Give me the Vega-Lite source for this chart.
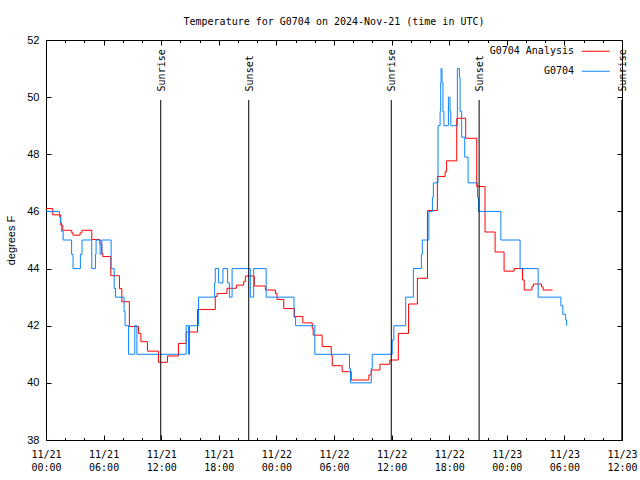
{
  "$schema": "https://vega.github.io/schema/vega-lite/v6.json",
  "width": 576,
  "height": 400,
  "autosize": {"type": "none"},
  "padding": {"left": 46, "top": 40, "right": 18, "bottom": 40},
  "background": "white",
  "title": {"text": "Temperature for G0704 on 2024-Nov-21 (time in UTC)", "font": "DejaVu Sans Mono", "fontSize": 10, "fontWeight": "normal", "color": "black", "anchor": "middle", "frame": "group", "baseline": "bottom", "offset": -2.5},
  "config": {
    "view": {"stroke": "black", "strokeWidth": 1},
    "axis": {"grid": false, "domain": false, "ticks": true, "tickColor": "black", "tickWidth": 1, "labelColor": "black", "labelFont": "DejaVu Sans Mono", "labelFontSize": 10, "titleFont": "Liberation Sans", "titleFontWeight": "normal", "titleFontSize": 11, "titleColor": "black"}
  },
  "datasets": {
    "temps": [
      {"time": "2024-11-21T00:00:00Z", "temp": 46.1, "series": "G0704 Analysis"},
      {"time": "2024-11-21T00:42:00Z", "temp": 45.88, "series": "G0704 Analysis"},
      {"time": "2024-11-21T01:32:00Z", "temp": 45.52, "series": "G0704 Analysis"},
      {"time": "2024-11-21T01:45:00Z", "temp": 45.34, "series": "G0704 Analysis"},
      {"time": "2024-11-21T02:41:00Z", "temp": 45.25, "series": "G0704 Analysis"},
      {"time": "2024-11-21T02:49:00Z", "temp": 45.17, "series": "G0704 Analysis"},
      {"time": "2024-11-21T03:33:00Z", "temp": 45.25, "series": "G0704 Analysis"},
      {"time": "2024-11-21T03:44:00Z", "temp": 45.34, "series": "G0704 Analysis"},
      {"time": "2024-11-21T04:46:00Z", "temp": 45.02, "series": "G0704 Analysis"},
      {"time": "2024-11-21T05:38:00Z", "temp": 44.85, "series": "G0704 Analysis"},
      {"time": "2024-11-21T05:49:00Z", "temp": 44.55, "series": "G0704 Analysis"},
      {"time": "2024-11-21T05:55:00Z", "temp": 44.42, "series": "G0704 Analysis"},
      {"time": "2024-11-21T06:45:00Z", "temp": 43.75, "series": "G0704 Analysis"},
      {"time": "2024-11-21T07:39:00Z", "temp": 43.3, "series": "G0704 Analysis"},
      {"time": "2024-11-21T07:54:00Z", "temp": 42.84, "series": "G0704 Analysis"},
      {"time": "2024-11-21T08:41:00Z", "temp": 41.97, "series": "G0704 Analysis"},
      {"time": "2024-11-21T09:38:00Z", "temp": 41.73, "series": "G0704 Analysis"},
      {"time": "2024-11-21T09:53:00Z", "temp": 41.44, "series": "G0704 Analysis"},
      {"time": "2024-11-21T10:34:00Z", "temp": 41.11, "series": "G0704 Analysis"},
      {"time": "2024-11-21T11:43:00Z", "temp": 40.72, "series": "G0704 Analysis"},
      {"time": "2024-11-21T12:39:00Z", "temp": 40.94, "series": "G0704 Analysis"},
      {"time": "2024-11-21T13:48:00Z", "temp": 41.38, "series": "G0704 Analysis"},
      {"time": "2024-11-21T14:36:00Z", "temp": 41.78, "series": "G0704 Analysis"},
      {"time": "2024-11-21T15:47:00Z", "temp": 42.57, "series": "G0704 Analysis"},
      {"time": "2024-11-21T17:38:00Z", "temp": 43.02, "series": "G0704 Analysis"},
      {"time": "2024-11-21T17:49:00Z", "temp": 43.13, "series": "G0704 Analysis"},
      {"time": "2024-11-21T18:51:00Z", "temp": 43.31, "series": "G0704 Analysis"},
      {"time": "2024-11-21T19:50:00Z", "temp": 43.42, "series": "G0704 Analysis"},
      {"time": "2024-11-21T20:35:00Z", "temp": 43.54, "series": "G0704 Analysis"},
      {"time": "2024-11-21T20:46:00Z", "temp": 43.74, "series": "G0704 Analysis"},
      {"time": "2024-11-21T21:42:00Z", "temp": 43.39, "series": "G0704 Analysis"},
      {"time": "2024-11-21T22:51:00Z", "temp": 43.25, "series": "G0704 Analysis"},
      {"time": "2024-11-21T23:54:00Z", "temp": 43.13, "series": "G0704 Analysis"},
      {"time": "2024-11-22T00:04:00Z", "temp": 42.92, "series": "G0704 Analysis"},
      {"time": "2024-11-22T00:46:00Z", "temp": 42.6, "series": "G0704 Analysis"},
      {"time": "2024-11-22T01:53:00Z", "temp": 42.32, "series": "G0704 Analysis"},
      {"time": "2024-11-22T02:45:00Z", "temp": 42.1, "series": "G0704 Analysis"},
      {"time": "2024-11-22T03:44:00Z", "temp": 41.9, "series": "G0704 Analysis"},
      {"time": "2024-11-22T03:50:00Z", "temp": 41.67, "series": "G0704 Analysis"},
      {"time": "2024-11-22T04:46:00Z", "temp": 41.27, "series": "G0704 Analysis"},
      {"time": "2024-11-22T05:43:00Z", "temp": 40.97, "series": "G0704 Analysis"},
      {"time": "2024-11-22T05:49:00Z", "temp": 40.6, "series": "G0704 Analysis"},
      {"time": "2024-11-22T06:51:00Z", "temp": 40.39, "series": "G0704 Analysis"},
      {"time": "2024-11-22T07:48:00Z", "temp": 40.1, "series": "G0704 Analysis"},
      {"time": "2024-11-22T09:38:00Z", "temp": 40.28, "series": "G0704 Analysis"},
      {"time": "2024-11-22T09:53:00Z", "temp": 40.45, "series": "G0704 Analysis"},
      {"time": "2024-11-22T10:47:00Z", "temp": 40.65, "series": "G0704 Analysis"},
      {"time": "2024-11-22T11:49:00Z", "temp": 40.8, "series": "G0704 Analysis"},
      {"time": "2024-11-22T12:42:00Z", "temp": 41.73, "series": "G0704 Analysis"},
      {"time": "2024-11-22T13:46:00Z", "temp": 42.76, "series": "G0704 Analysis"},
      {"time": "2024-11-22T14:41:00Z", "temp": 43.66, "series": "G0704 Analysis"},
      {"time": "2024-11-22T15:44:00Z", "temp": 46.03, "series": "G0704 Analysis"},
      {"time": "2024-11-22T16:46:00Z", "temp": 47.22, "series": "G0704 Analysis"},
      {"time": "2024-11-22T17:34:00Z", "temp": 47.39, "series": "G0704 Analysis"},
      {"time": "2024-11-22T17:44:00Z", "temp": 47.77, "series": "G0704 Analysis"},
      {"time": "2024-11-22T18:47:00Z", "temp": 49.26, "series": "G0704 Analysis"},
      {"time": "2024-11-22T19:43:00Z", "temp": 48.56, "series": "G0704 Analysis"},
      {"time": "2024-11-22T20:52:00Z", "temp": 46.87, "series": "G0704 Analysis"},
      {"time": "2024-11-22T21:44:00Z", "temp": 45.28, "series": "G0704 Analysis"},
      {"time": "2024-11-22T22:47:00Z", "temp": 44.58, "series": "G0704 Analysis"},
      {"time": "2024-11-22T23:43:00Z", "temp": 43.91, "series": "G0704 Analysis"},
      {"time": "2024-11-23T00:46:00Z", "temp": 44.0, "series": "G0704 Analysis"},
      {"time": "2024-11-23T01:38:00Z", "temp": 43.6, "series": "G0704 Analysis"},
      {"time": "2024-11-23T01:49:00Z", "temp": 43.25, "series": "G0704 Analysis"},
      {"time": "2024-11-23T02:37:00Z", "temp": 43.38, "series": "G0704 Analysis"},
      {"time": "2024-11-23T02:47:00Z", "temp": 43.46, "series": "G0704 Analysis"},
      {"time": "2024-11-23T03:37:00Z", "temp": 43.36, "series": "G0704 Analysis"},
      {"time": "2024-11-23T03:47:00Z", "temp": 43.25, "series": "G0704 Analysis"},
      {"time": "2024-11-23T04:46:00Z", "temp": 43.25, "series": "G0704 Analysis"},
      {"time": "2024-11-21T00:00:00Z", "temp": 46.0, "series": "G0704"},
      {"time": "2024-11-21T01:25:00Z", "temp": 45.8, "series": "G0704"},
      {"time": "2024-11-21T01:31:00Z", "temp": 45.6, "series": "G0704"},
      {"time": "2024-11-21T01:38:00Z", "temp": 45.3, "series": "G0704"},
      {"time": "2024-11-21T01:47:00Z", "temp": 45.0, "series": "G0704"},
      {"time": "2024-11-21T02:40:00Z", "temp": 44.5, "series": "G0704"},
      {"time": "2024-11-21T02:49:00Z", "temp": 44.0, "series": "G0704"},
      {"time": "2024-11-21T03:35:00Z", "temp": 44.5, "series": "G0704"},
      {"time": "2024-11-21T03:45:00Z", "temp": 45.0, "series": "G0704"},
      {"time": "2024-11-21T04:46:00Z", "temp": 44.0, "series": "G0704"},
      {"time": "2024-11-21T05:09:00Z", "temp": 44.5, "series": "G0704"},
      {"time": "2024-11-21T05:13:00Z", "temp": 45.0, "series": "G0704"},
      {"time": "2024-11-21T05:38:00Z", "temp": 44.5, "series": "G0704"},
      {"time": "2024-11-21T05:49:00Z", "temp": 45.0, "series": "G0704"},
      {"time": "2024-11-21T06:47:00Z", "temp": 44.0, "series": "G0704"},
      {"time": "2024-11-21T07:06:00Z", "temp": 43.3, "series": "G0704"},
      {"time": "2024-11-21T07:14:00Z", "temp": 43.0, "series": "G0704"},
      {"time": "2024-11-21T08:08:00Z", "temp": 42.5, "series": "G0704"},
      {"time": "2024-11-21T08:14:00Z", "temp": 42.0, "series": "G0704"},
      {"time": "2024-11-21T08:36:00Z", "temp": 41.0, "series": "G0704"},
      {"time": "2024-11-21T09:15:00Z", "temp": 42.0, "series": "G0704"},
      {"time": "2024-11-21T09:28:00Z", "temp": 41.0, "series": "G0704"},
      {"time": "2024-11-21T14:36:00Z", "temp": 42.0, "series": "G0704"},
      {"time": "2024-11-21T14:51:00Z", "temp": 41.0, "series": "G0704"},
      {"time": "2024-11-21T14:57:00Z", "temp": 42.0, "series": "G0704"},
      {"time": "2024-11-21T15:53:00Z", "temp": 43.0, "series": "G0704"},
      {"time": "2024-11-21T17:34:00Z", "temp": 43.5, "series": "G0704"},
      {"time": "2024-11-21T17:38:00Z", "temp": 44.0, "series": "G0704"},
      {"time": "2024-11-21T17:59:00Z", "temp": 43.5, "series": "G0704"},
      {"time": "2024-11-21T18:26:00Z", "temp": 44.0, "series": "G0704"},
      {"time": "2024-11-21T18:55:00Z", "temp": 43.5, "series": "G0704"},
      {"time": "2024-11-21T19:06:00Z", "temp": 43.0, "series": "G0704"},
      {"time": "2024-11-21T19:23:00Z", "temp": 44.0, "series": "G0704"},
      {"time": "2024-11-21T21:17:00Z", "temp": 43.0, "series": "G0704"},
      {"time": "2024-11-21T21:38:00Z", "temp": 44.0, "series": "G0704"},
      {"time": "2024-11-21T22:56:00Z", "temp": 43.0, "series": "G0704"},
      {"time": "2024-11-22T01:50:00Z", "temp": 42.3, "series": "G0704"},
      {"time": "2024-11-22T02:00:00Z", "temp": 42.0, "series": "G0704"},
      {"time": "2024-11-22T04:00:00Z", "temp": 41.0, "series": "G0704"},
      {"time": "2024-11-22T07:37:00Z", "temp": 40.5, "series": "G0704"},
      {"time": "2024-11-22T07:43:00Z", "temp": 40.0, "series": "G0704"},
      {"time": "2024-11-22T09:53:00Z", "temp": 40.5, "series": "G0704"},
      {"time": "2024-11-22T09:59:00Z", "temp": 41.0, "series": "G0704"},
      {"time": "2024-11-22T12:04:00Z", "temp": 41.5, "series": "G0704"},
      {"time": "2024-11-22T12:14:00Z", "temp": 42.0, "series": "G0704"},
      {"time": "2024-11-22T13:28:00Z", "temp": 43.0, "series": "G0704"},
      {"time": "2024-11-22T14:16:00Z", "temp": 44.0, "series": "G0704"},
      {"time": "2024-11-22T15:06:00Z", "temp": 44.5, "series": "G0704"},
      {"time": "2024-11-22T15:12:00Z", "temp": 45.0, "series": "G0704"},
      {"time": "2024-11-22T15:53:00Z", "temp": 46.0, "series": "G0704"},
      {"time": "2024-11-22T16:15:00Z", "temp": 46.5, "series": "G0704"},
      {"time": "2024-11-22T16:21:00Z", "temp": 47.0, "series": "G0704"},
      {"time": "2024-11-22T16:50:00Z", "temp": 49.0, "series": "G0704"},
      {"time": "2024-11-22T17:03:00Z", "temp": 49.5, "series": "G0704"},
      {"time": "2024-11-22T17:07:00Z", "temp": 50.5, "series": "G0704"},
      {"time": "2024-11-22T17:09:00Z", "temp": 51.0, "series": "G0704"},
      {"time": "2024-11-22T17:15:00Z", "temp": 50.5, "series": "G0704"},
      {"time": "2024-11-22T17:21:00Z", "temp": 49.5, "series": "G0704"},
      {"time": "2024-11-22T17:27:00Z", "temp": 49.0, "series": "G0704"},
      {"time": "2024-11-22T17:55:00Z", "temp": 50.0, "series": "G0704"},
      {"time": "2024-11-22T18:05:00Z", "temp": 49.5, "series": "G0704"},
      {"time": "2024-11-22T18:10:00Z", "temp": 49.0, "series": "G0704"},
      {"time": "2024-11-22T18:51:00Z", "temp": 51.0, "series": "G0704"},
      {"time": "2024-11-22T19:04:00Z", "temp": 50.7, "series": "G0704"},
      {"time": "2024-11-22T19:08:00Z", "temp": 49.5, "series": "G0704"},
      {"time": "2024-11-22T19:18:00Z", "temp": 48.6, "series": "G0704"},
      {"time": "2024-11-22T19:37:00Z", "temp": 47.9, "series": "G0704"},
      {"time": "2024-11-22T19:58:00Z", "temp": 47.0, "series": "G0704"},
      {"time": "2024-11-22T20:57:00Z", "temp": 46.5, "series": "G0704"},
      {"time": "2024-11-22T21:03:00Z", "temp": 46.0, "series": "G0704"},
      {"time": "2024-11-22T23:23:00Z", "temp": 45.0, "series": "G0704"},
      {"time": "2024-11-23T01:23:00Z", "temp": 44.0, "series": "G0704"},
      {"time": "2024-11-23T03:16:00Z", "temp": 43.0, "series": "G0704"},
      {"time": "2024-11-23T05:38:00Z", "temp": 42.7, "series": "G0704"},
      {"time": "2024-11-23T05:50:00Z", "temp": 42.4, "series": "G0704"},
      {"time": "2024-11-23T06:08:00Z", "temp": 42.2, "series": "G0704"},
      {"time": "2024-11-23T06:14:00Z", "temp": 42.0, "series": "G0704"},
      {"time": "2024-11-23T06:15:00Z", "temp": 42.0, "series": "G0704"}
    ],
    "events": [
      {"time": "2024-11-21T11:57:00Z", "event": "Sunrise"},
      {"time": "2024-11-21T21:07:00Z", "event": "Sunset"},
      {"time": "2024-11-22T11:58:00Z", "event": "Sunrise"},
      {"time": "2024-11-22T21:07:00Z", "event": "Sunset"},
      {"time": "2024-11-23T11:59:00Z", "event": "Sunrise"}
    ]
  },
  "layer": [
    {
      "data": {"name": "temps"},
      "transform": [{"filter": "datum.series === 'G0704 Analysis'"}],
      "mark": {"type": "line", "interpolate": "step-after", "strokeWidth": 1},
      "encoding": {
        "x": {"field": "time", "type": "temporal",
          "scale": {"type": "utc", "domain": [1732147200000, 1732363200000], "nice": false},
          "axis": {"orient": "bottom", "title": null, "values": [1732147200000, 1732168800000, 1732190400000, 1732212000000, 1732233600000, 1732255200000, 1732276800000, 1732298400000, 1732320000000, 1732341600000, 1732363200000], "tickSize": -5, "labelExpr": "[utcFormat(datum.value, '%m/%d'), utcFormat(datum.value, '%H:%M')]", "labelFlush": false, "labelOverlap": false, "labelPadding": 14, "labelLineHeight": 13, "labelBaseline": "top"}},
        "y": {"field": "temp", "type": "quantitative",
          "scale": {"domain": [38, 52], "nice": false, "zero": false},
          "axis": {"orient": "left", "values": [38, 40, 42, 44, 46, 48, 50, 52], "tickSize": -5, "labelPadding": 12, "labelFont": "Liberation Sans", "labelFontSize": 11, "title": "degrees F", "titlePadding": 10}},
        "color": {"field": "series", "type": "nominal",
          "scale": {"domain": ["G0704 Analysis", "G0704"], "range": ["#ff0000", "#0a84ff"]},
          "legend": {"orient": "none", "legendX": 443.7, "legendY": -3.25, "title": null, "symbolType": "stroke", "symbolSize": 784, "symbolStrokeWidth": 1, "labelAlign": "right", "labelOffset": -36.2, "symbolOffset": 91.5, "rowPadding": -8, "padding": 0, "labelFont": "DejaVu Sans Mono", "labelFontSize": 10, "labelColor": "black"}}
      }
    },
    {
      "data": {"name": "temps"},
      "transform": [{"filter": "datum.series === 'G0704'"}],
      "mark": {"type": "line", "interpolate": "step-after", "strokeWidth": 1},
      "encoding": {
        "x": {"field": "time", "type": "temporal",
          "axis": {"orient": "bottom", "title": null, "values": [1732147200000, 1732154400000, 1732161600000, 1732168800000, 1732176000000, 1732183200000, 1732190400000, 1732197600000, 1732204800000, 1732212000000, 1732219200000, 1732226400000, 1732233600000, 1732240800000, 1732248000000, 1732255200000, 1732262400000, 1732269600000, 1732276800000, 1732284000000, 1732291200000, 1732298400000, 1732305600000, 1732312800000, 1732320000000, 1732327200000, 1732334400000, 1732341600000, 1732348800000, 1732356000000, 1732363200000], "tickSize": -2.5, "labels": false}},
        "y": {"field": "temp", "type": "quantitative",
          "axis": {"orient": "right", "values": [38, 40, 42, 44, 46, 48, 50, 52], "tickSize": -5, "labels": false, "title": null}},
        "color": {"field": "series", "type": "nominal"}
      }
    },
    {
      "data": {"name": "events"},
      "mark": {"type": "rule", "color": "black", "strokeWidth": 1},
      "encoding": {
        "x": {"field": "time", "type": "temporal",
          "axis": {"orient": "top", "title": null, "values": [1732147200000, 1732168800000, 1732190400000, 1732212000000, 1732233600000, 1732255200000, 1732276800000, 1732298400000, 1732320000000, 1732341600000, 1732363200000], "tickSize": -5, "labels": false}},
        "y": {"datum": 49.9, "type": "quantitative", "axis": null},
        "y2": {"datum": 38}
      }
    },
    {
      "data": {"name": "events"},
      "mark": {"type": "text", "angle": 270, "align": "left", "baseline": "middle", "font": "DejaVu Sans Mono", "fontSize": 10, "color": "black", "dy": 1},
      "encoding": {
        "x": {"field": "time", "type": "temporal",
          "axis": {"orient": "top", "title": null, "values": [1732147200000, 1732154400000, 1732161600000, 1732168800000, 1732176000000, 1732183200000, 1732190400000, 1732197600000, 1732204800000, 1732212000000, 1732219200000, 1732226400000, 1732233600000, 1732240800000, 1732248000000, 1732255200000, 1732262400000, 1732269600000, 1732276800000, 1732284000000, 1732291200000, 1732298400000, 1732305600000, 1732312800000, 1732320000000, 1732327200000, 1732334400000, 1732341600000, 1732348800000, 1732356000000, 1732363200000], "tickSize": -2.5, "labels": false}},
        "y": {"datum": 50.2, "type": "quantitative", "axis": null},
        "text": {"field": "event", "type": "nominal"}
      }
    }
  ],
  "resolve": {"axis": {"x": "independent", "y": "independent"}}
}
